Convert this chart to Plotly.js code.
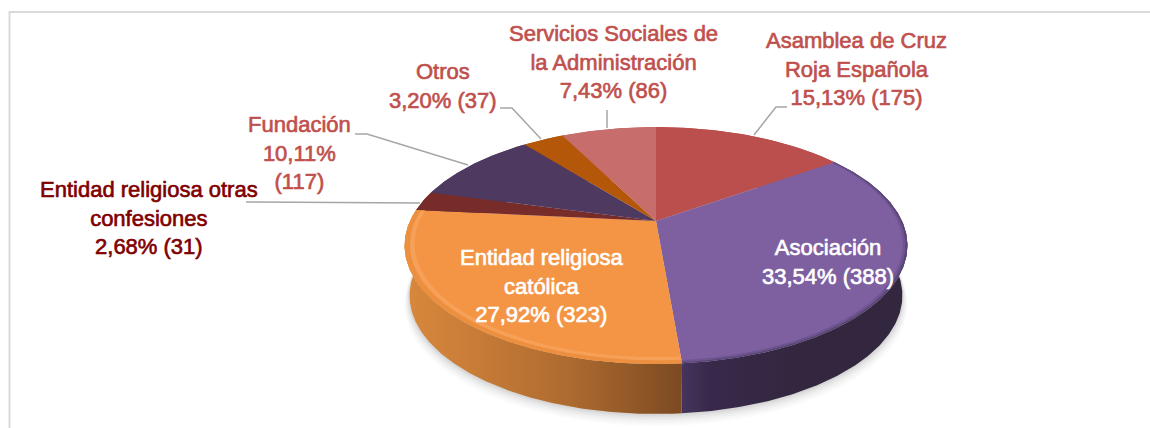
<!DOCTYPE html>
<html><head><meta charset="utf-8">
<script src="https://cdn.plot.ly/plotly-3.0.1.min.js"></script>
<style>html,body{margin:0;padding:0;background:#fff}#c{width:1150px;height:428px}</style>
</head><body><div id="c"></div>
<script>
const categories = ["Asamblea de Cruz Roja Española","Asociación","Entidad religiosa católica","Entidad religiosa otras confesiones","Fundación","Otros","Servicios Sociales de la Administración"];
const counts = [175,388,323,31,117,37,86];
const percentLabels = ["15,13%","33,54%","27,92%","2,68%","10,11%","3,20%","7,43%"];
const sliceColors = ["#bb4f4d","#7e60a0","#f49546","#772c2a","#4e3a60","#b55708","#c76d6c"];
const FONT = '"Liberation Sans",Arial,sans-serif';
const labelLines = [
  ["Asamblea de Cruz","Roja Española","15,13% (175)"],
  ["Asociación","33,54% (388)"],
  ["Entidad religiosa","católica","27,92% (323)"],
  ["Entidad religiosa otras","confesiones","2,68% (31)"],
  ["Fundación","10,11%","(117)"],
  ["Otros","3,20% (37)"],
  ["Servicios Sociales de","la Administración","7,43% (86)"]
];
const labelAnchor = [[856,40],[828,247],[541,257],[149,189],[299,124],[443,71],[613,33]];
const labelColors = ["#c0504d","#ffffff","#ffffff","#7f0000","#c0504d","#c0504d","#c0504d"];
const leaders = [
  [[787,776,754],[107,107,135]],
  [[607,607],[110,128]],
  [[500,512,541],[108,108,139]],
  [[355,367,468],[134,134,165]],
  [[246,420],[202,203]]
];

// perspective projection of the tilted disc
const CX=656, CY=221, RX=246, K=0.207, A=113.4;
function proj(th,r){const u=r*Math.sin(th),v=r*Math.cos(th),w=1+K*v;return [CX+RX*u/w,CY-A*v/w];}
const total=counts.reduce((a,b)=>a+b,0);
let acc=0; const spans=counts.map(c=>{const s=[acc/total*2*Math.PI,(acc+c)/total*2*Math.PI];acc+=c;return s;});
function arc(a,b,r,fn){const n=Math.max(4,Math.ceil((b-a)/0.01)),p=[];for(let i=0;i<=n;i++){const q=proj(a+(b-a)*i/n,r);p.push(fn?fn(q):q);}return p;}
const DROP=50, SHR=0.98;
const low=q=>[CX+(q[0]-CX)*SHR,q[1]+DROP];
const traces=[];
function poly(pts,extra){traces.push(Object.assign({type:'scatter',mode:'lines',x:pts.map(p=>p[0]),y:pts.map(p=>p[1]),fill:'toself',line:{width:0},hoverinfo:'skip',showlegend:false},extra));}

// soft shadow
[[11,.015],[9,.02],[7,.025],[5,.03],[3,.035],[1.5,.04]].forEach(([g,o])=>{
  const pts=arc(0,2*Math.PI,1,q=>{const l=low(q);return [CX+(l[0]-CX)*(1+g/500),l[1]+g*0.8+(l[1]-296)*g/400];});
  poly(pts,{fillcolor:`rgba(0,0,0,${o})`});
});
// sides
const sideScale={
  1:[[0,'#45355e'],[0.12,'#38294b'],[0.5,'#33273f'],[1,'#33273f']],
  2:[[0,'#d9883c'],[0.3,'#c47a36'],[0.6,'#ad6a2f'],[1,'#7c4a22']]
};
spans.forEach((s,i)=>{
  const top=arc(s[0],s[1],1), bot=arc(s[0],s[1],1,low).reverse();
  const pts=top.concat(bot);pts.push(top[0]);
  const ex=sideScale[i]?{fillgradient:{type:'horizontal',colorscale:sideScale[i]}}:{fillcolor:sliceColors[i]};
  poly(pts,ex);
});
// top faces
spans.forEach((s,i)=>{
  const pts=[[CX,CY]].concat(arc(s[0],s[1],1));pts.push([CX,CY]);
  traces.push({type:'scatter',mode:'lines',x:pts.map(p=>p[0]),y:pts.map(p=>p[1]),fill:'toself',fillcolor:sliceColors[i],line:{width:0},name:categories[i],text:categories[i]+': '+counts[i],hoverinfo:'text',showlegend:false});
});
// bevel on the rim
const bevel={
  1:[[0.982,0.992,'#6e5490'],[0.992,1,'#584672']],
  2:[[0.962,0.98,'#f6a058'],[0.98,1,'#ec9040']]
};
Object.keys(bevel).forEach(i=>{bevel[i].forEach(b=>{
  const s=spans[i];const o=arc(s[0],s[1],b[1]),n=arc(s[0],s[1],b[0]).reverse();
  const pts=o.concat(n);pts.push(o[0]);poly(pts,{fillcolor:b[2]});
});});

const annotations=[];
labelLines.forEach((lines,i)=>{
  annotations.push({x:labelAnchor[i][0],y:labelAnchor[i][1],xref:'x',yref:'y',text:lines.join('<br>'),showarrow:false,xanchor:'center',yanchor:'top',yshift:14,align:'center',font:{family:FONT,size:22,color:labelColors[i]}});
});
const shapes=leaders.map(l=>({type:'path',xref:'x',yref:'y',path:l[0].map((x,j)=>(j?'L':'M')+x+' '+l[1][j]).join(' '),line:{color:'#a6a6a6',width:1.5}}));
shapes.push({type:'path',xref:'x',yref:'y',path:'M9.5 428 L9.5 12 L1150 12',line:{color:'#d9d9d9',width:2}});
const ax=r=>({range:r,visible:false,fixedrange:true});
Plotly.newPlot('c',traces,{width:1150,height:428,margin:{l:0,r:0,t:0,b:0},paper_bgcolor:'#fff',plot_bgcolor:'#fff',xaxis:ax([0,1150]),yaxis:ax([428,0]),shapes,annotations,showlegend:false},{displayModeBar:false,staticPlot:true}).then(gd=>{
  // thicken the strokes: the reference labels are semi-bold
  gd.querySelectorAll('.annotation-text').forEach(t=>{t.style.stroke=t.style.fill;t.style.strokeWidth='0.65px';});
});
</script></body></html>
